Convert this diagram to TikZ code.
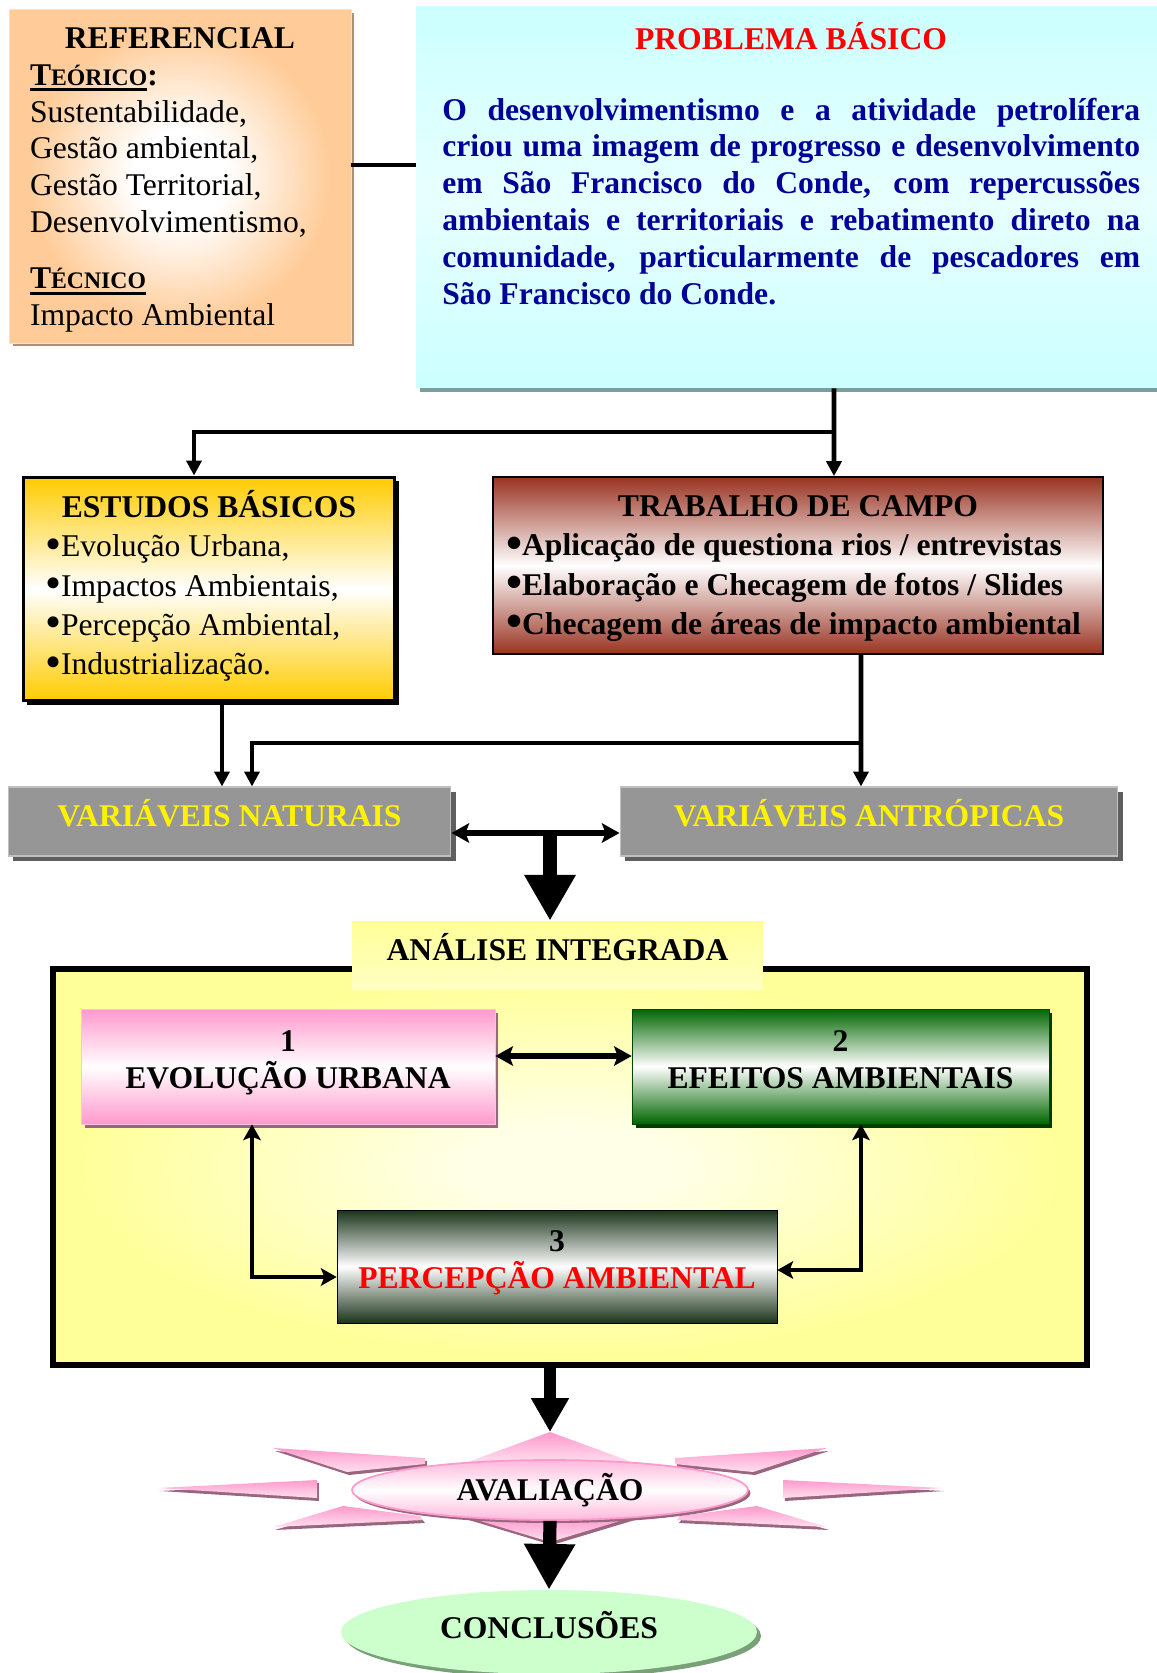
\documentclass[tikz,border=0pt]{standalone}
\usepackage{fontspec}
\setmainfont{Liberation Serif}
\usepackage{graphicx}
\usepackage{tikz}
\usetikzlibrary{arrows.meta,shapes.geometric,shadows}

\newcommand\grande{\fontsize{18}{21}\selectfont}
\newcommand\versal[1]{{\fontsize{13.5}{21}\selectfont #1}}
\newcommand\bul{\raisebox{-0.07em}{\scalebox{1.45}{•}}}
\newcommand\sublinha[1]{\leavevmode\setbox0\hbox{#1}\rlap{\rule[-3.4pt]{\wd0}{1.5pt}}\box0}
\newcommand\duas[2]{\rule{0pt}{11.3pt}#1\\#2\rule[-7.9pt]{0pt}{0pt}}

\definecolor{peach}{RGB}{255,204,153}
\definecolor{peachsh}{RGB}{176,144,112}
\definecolor{aqua}{RGB}{204,255,255}
\definecolor{aqualt}{RGB}{232,255,255}
\definecolor{aquash}{RGB}{122,158,158}
\definecolor{gold}{RGB}{255,204,0}
\definecolor{rust}{RGB}{153,51,34}
\definecolor{varg}{RGB}{150,150,150}
\definecolor{vargsh}{RGB}{95,95,95}
\definecolor{varged}{RGB}{192,192,192}
\definecolor{paley}{RGB}{255,255,153}
\definecolor{paleyl}{RGB}{255,255,232}
\definecolor{rosa}{RGB}{255,153,204}
\definecolor{rosash}{RGB}{153,102,128}
\definecolor{verde}{RGB}{0,102,0}
\definecolor{escuro}{RGB}{26,51,26}
\definecolor{navy}{RGB}{0,0,153}
\definecolor{menta}{RGB}{204,255,204}
\definecolor{mentash}{RGB}{122,160,122}

\pgfdeclareradialshading{refglow}{\pgfpoint{0bp}{0bp}}{color(0bp)=(white); color(7bp)=(white); color(22bp)=(peach); color(50bp)=(peach)}
\pgfdeclareradialshading{bigglow}{\pgfpoint{0bp}{0bp}}{color(0bp)=(paleyl); color(5bp)=(paleyl); color(24bp)=(paley); color(50bp)=(paley)}

\begin{document}
\begin{tikzpicture}[x=0.02cm,y=-0.02cm,font=\grande,
  refbox/.style={rectangle,inner sep=0,shading=refglow,draw=peach!60!white,line width=0.5pt,
    drop shadow={shadow xshift=0.07cm,shadow yshift=-0.07cm,fill=peachsh,opacity=1}},
  probbox/.style={rectangle,inner sep=0,top color=aqua,bottom color=aqua,middle color=aqualt,
    drop shadow={shadow xshift=0.08cm,shadow yshift=-0.08cm,fill=aquash,opacity=1}},
  estbox/.style={rectangle,inner sep=0,draw=black,line width=1.7pt,top color=gold,bottom color=gold,middle color=white,
    drop shadow={shadow xshift=0.08cm,shadow yshift=-0.08cm,fill=black,opacity=1}},
  trabbox/.style={rectangle,inner sep=0,draw=black,line width=1pt,top color=rust,bottom color=rust,middle color=white},
  varbox/.style={rectangle,inner sep=0,fill=varg,draw=varged,line width=0.6pt,text=yellow,font=\grande\bfseries,
    text height=0.85em,text depth=0.25em,
    drop shadow={shadow xshift=0.1cm,shadow yshift=-0.1cm,fill=vargsh,opacity=1}},
  anabox/.style={rectangle,inner sep=0,top color=paley,bottom color=paley!60!white,font=\grande\bfseries,
    text height=0.85em,text depth=0.25em},
  bigbox/.style={rectangle,inner sep=0,draw=black,line width=3.4pt,shading=bigglow},
  evobox/.style={rectangle,inner sep=0,align=center,font=\grande\bfseries,top color=rosa,bottom color=rosa,middle color=white,
    draw=rosa!60!white,drop shadow={shadow xshift=0.07cm,shadow yshift=-0.07cm,fill=rosash,opacity=1}},
  efebox/.style={rectangle,inner sep=0,align=center,font=\grande\bfseries,top color=verde,bottom color=verde,middle color=white,
    draw=verde!70!black,drop shadow={shadow xshift=0.07cm,shadow yshift=-0.07cm,fill=verde!60!black,opacity=1}},
  perbox/.style={rectangle,inner sep=0,align=center,font=\grande\bfseries,top color=escuro,bottom color=escuro,middle color=white,
    draw=black},
  raio/.style={preaction={fill=rosash,transform canvas={shift={(1.1pt,-1.7pt)}}},top color=rosa,bottom color=rosa!30!white},
  avalbox/.style={ellipse,inner sep=0,font=\grande\bfseries,top color=rosa!70!white,bottom color=rosa!70!white,middle color=white,
    draw=rosa,line width=1pt,drop shadow={shadow xshift=0.05cm,shadow yshift=-0.06cm,fill=rosash,opacity=1}},
  conclbox/.style={ellipse,inner sep=0,font=\grande\bfseries,fill=menta,text height=0.7em,text depth=0pt,
    drop shadow={shadow xshift=0.08cm,shadow yshift=-0.08cm,fill=mentash,opacity=1}},
  linha/.style={line width=2.7pt},
  seta/.style={line width=2.6pt,-{Triangle[width=8.5pt,length=8.5pt]}},
  duplo/.style={line width=3pt,{Stealth[width=11pt,length=10pt,inset=2pt]}-{Stealth[width=11pt,length=10pt,inset=2pt]}},
  duplo2/.style={line width=2.6pt,{Stealth[width=10pt,length=9pt,inset=2pt]}-{Stealth[width=10pt,length=9pt,inset=2pt]}},
  grossa/.style={line width=7.5pt,-{Triangle[width=27.5pt,length=26pt]}},
  grossa2/.style={line width=6.8pt,-{Triangle[width=20.4pt,length=19.3pt]}}]
\useasboundingbox (0,0) rectangle (1156,1673);

\node[refbox,minimum width=6.84cm,minimum height=6.68cm] (ref) at (180,176)
  {\parbox{6cm}{\vspace{4.5pt}\centering\textbf{REFERENCIAL}\par\raggedright
   \sublinha{\textbf{T\versal{EÓRICO}}}\textbf{:}\par
   Sustentabilidade,\par Gestão ambiental,\par Gestão Territorial,\par
   Desenvolvimentismo,\par\vspace{11pt}
   \sublinha{\textbf{T\versal{ÉCNICO}}}\par Impacto Ambiental}};

\node[probbox,minimum width=14.88cm,minimum height=7.64cm] (prob) at (788,197) {};
\node[anchor=base,text=red,font=\grande\bfseries] (probtit) at (791,50) {PROBLEMA BÁSICO};
\node[anchor=base west,inner sep=0,text=navy,font=\grande\bfseries] (probtxt) at (442,120)
  {\parbox[t]{13.96cm}{\noindent O desenvolvimentismo e a atividade petrolífera\linebreak
   criou uma imagem de progresso e desenvolvimento\linebreak
   em São Francisco do Conde, com repercussões\linebreak
   ambientais e territoriais e rebatimento direto na\linebreak
   comunidade, particularmente de pescadores em\linebreak
   São Francisco do Conde.}};

\node[estbox,minimum width=7.44cm,minimum height=4.48cm] (est) at (209,589)
  {\parbox{6.56cm}{\fontsize{18}{22.4}\selectfont\centering\textbf{ESTUDOS BÁSICOS}\par\raggedright
   \bul Evolução Urbana,\par \bul Impactos Ambientais,\par \bul Percepção Ambiental,\par \bul Industrialização.\par
   \vspace{3.4pt}}};
\node[trabbox,minimum width=12.2cm,minimum height=3.54cm] (trab) at (798,565.5)
  {\parbox{11.68cm}{\vspace{3.4pt}\fontsize{18}{22.4}\selectfont\bfseries\centering TRABALHO DE CAMPO\par\raggedright
   \bul Aplicação de questiona rios / entrevistas\par
   \bul Elaboração e Checagem de fotos / Slides\par
   \bul Checagem de áreas de impacto ambiental}};

\node[varbox,minimum width=8.86cm,minimum height=1.38cm] (nat) at (229.5,821.5) {VARIÁVEIS NATURAIS};
\node[varbox,minimum width=9.96cm,minimum height=1.38cm] (ant) at (869,821.5) {VARIÁVEIS ANTRÓPICAS};

\node[bigbox,minimum width=20.68cm,minimum height=7.92cm] (big) at (570,1167) {};
\node[anabox,minimum width=8.22cm,minimum height=1.36cm] (ana) at (557.5,955) {ANÁLISE INTEGRADA};
\node[evobox,minimum width=8.28cm,minimum height=2.3cm] (evo) at (288,1066.5) {\duas{1}{EVOLUÇÃO URBANA}};
\node[efebox,minimum width=8.34cm,minimum height=2.3cm] (efe) at (840.5,1066.5) {\duas{2}{EFEITOS AMBIENTAIS}};
\node[perbox,minimum width=8.8cm,minimum height=2.26cm] (per) at (557,1266.5) {\duas{3}{\textcolor{red}{PERCEPÇÃO AMBIENTAL}}};

% estrela da avaliacao
\path[raio] (550,1432) -- (465,1463) -- (635,1463) -- cycle;
\path[raio] (467,1517) -- (633,1517) -- (550,1542) -- cycle;
\foreach \s in {-1,1}{%
  \path[raio] ({550+\s*277},1448) -- ({550+\s*125},1458) -- ({550+\s*125},1464) -- ({550+\s*203},1472) -- cycle;
  \path[raio] ({550+\s*392},1488) -- ({550+\s*233},1480) -- ({550+\s*233},1498) -- cycle;
  \path[raio] ({550+\s*277},1527) -- ({550+\s*207},1506) -- ({550+\s*130},1516) -- ({550+\s*127},1520) -- cycle;}
\coordinate (startop) at (550,1432);
\node[avalbox,minimum width=7.92cm,minimum height=1.2cm] (aval) at (550,1490) {AVALIAÇÃO};
\node[conclbox,minimum width=8.32cm,minimum height=1.68cm] (concl) at (549,1632) {CONCLUSÕES};

\draw[linha] ([yshift=0.22cm]ref.east) -- ([yshift=0.22cm]ref.east -| prob.west);
\coordinate (split) at (834,432);
\draw[seta] ([xshift=0.92cm]prob.south) -- (split) -- (split |- trab.north);
\draw[seta] (split) -| ([xshift=-0.3cm]est.north);
\draw[seta] ([xshift=0.26cm]est.south) -- ([xshift=0.26cm]est.south |- nat.north);
\coordinate (join) at (861,743);
\draw[seta] ([xshift=1.26cm]trab.south) -- (join) -- (join |- ant.north);
\draw[seta] (join) -| ([xshift=0.45cm]nat.north);
\draw[duplo] ([yshift=-0.23cm]nat.east) -- ([yshift=-0.23cm]nat.east -| ant.west);
\coordinate (meio) at (550,833);
\draw[grossa] (meio) -- (meio |- ana.north);
\draw[duplo] ([yshift=0.21cm]evo.east) -- ([yshift=0.21cm]evo.east -| efe.west);
\draw[duplo2] ([xshift=-0.72cm]evo.south) |- ([yshift=-0.21cm]per.west);
\draw[duplo2] ([xshift=0.41cm]efe.south) |- ([yshift=-0.07cm]per.east);
\draw[grossa2] ([xshift=-0.4cm]big.south) -- (startop);
\draw[grossa] (aval.south) -- (concl.north);
\end{tikzpicture}
\end{document}
